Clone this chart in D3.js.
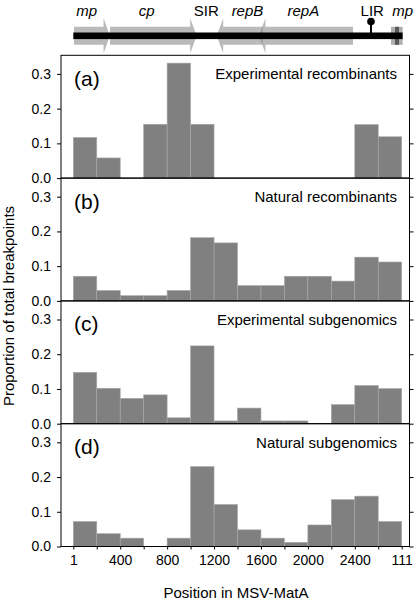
<!DOCTYPE html>
<html><head><meta charset="utf-8">
<script src="https://cdn.jsdelivr.net/npm/d3@7"></script>
<style>
body{margin:0;background:#fff}
svg{display:block;font-family:"Liberation Sans",Arial,sans-serif}
</style>
</head><body>
<svg id="chart" width="416" height="601"></svg>
<script>
// ---- data ----
const binStarts = [0,200,400,600,800,1000,1200,1400,1600,1800,2000,2200,2400,2600];
const binWidth = 200;
const xTickValues = [0,400,800,1200,1600,2000,2400,2800];
const xTickLabels = ["1","400","800","1200","1600","2000","2400","111"];
const yTicks = [0,0.1,0.2,0.3];
const panelLetters = ["(a)","(b)","(c)","(d)"];
const panelTitles = ["Experimental recombinants","Natural recombinants","Experimental subgenomics","Natural subgenomics"];
const experimentalRecombinants = [0.117,0.058,0,0.155,0.331,0.155,0,0,0,0,0,0,0.154,0.119];
const naturalRecombinants = [0.071,0.030,0.015,0.015,0.030,0.182,0.167,0.044,0.044,0.071,0.071,0.057,0.126,0.112];
const experimentalSubgenomics = [0.148,0.102,0.073,0.083,0.017,0.224,0.008,0.045,0.008,0.008,0,0.055,0.110,0.101];
const naturalSubgenomics = [0.072,0.037,0.024,0,0.024,0.230,0.121,0.048,0.024,0.012,0.062,0.135,0.145,0.072];
const seriesList = [experimentalRecombinants,naturalRecombinants,experimentalSubgenomics,naturalSubgenomics];

// genome map (positions in genome coordinates)
const genes = [
  {name:"mp", start:6, end:313, dir:1},
  {name:"cp", start:313, end:1052, dir:1},
  {name:"repB", start:1223, end:1617, dir:-1},
  {name:"repA", start:1583, end:2385, dir:-1}
];
const geneLabels = [
  {text:"mp", pos:114, italic:true},
  {text:"cp", pos:626, italic:true},
  {text:"SIR", pos:1134, italic:false},
  {text:"repB", pos:1485, italic:true},
  {text:"repA", pos:1961, italic:true},
  {text:"LIR", pos:2549, italic:false},
  {text:"mp", pos:2808, italic:true}
];
const genomeSpan = [0, 2808];
const lirPos = 2538;
const mpTail = [2709, 2808];
const mpTailCore = [2743, 2777];

// ---- layout ----
const W = 416, H = 601;
const frameLeft = 61, frameRight = 409.5;
const panelTop0 = 55.3, panelH = 122.8;
const yMaxDomain = 0.3 * panelH / 104.2;

const svg = d3.select("#chart");
const x = d3.scaleLinear().domain([0, 2800]).range([73.3, 401.7]);

// ---- genome map ----
const map = svg.append("g");
const lineY = 35.8, bodyHalf = 9, headHalf = 17.5, headLen = 55;
function genePath(g){
  const y0 = lineY - bodyHalf, y1 = lineY + bodyHalf;
  const ht = lineY - headHalf, hb = lineY + headHalf;
  if (g.dir > 0){
    const hb0 = g.end - headLen;
    return [[x(g.start),y0],[x(hb0),y0],[x(hb0),ht],[x(g.end),lineY],[x(hb0),hb],[x(hb0),y1],[x(g.start),y1]];
  } else {
    const hb0 = g.start + headLen;
    return [[x(g.end),y0],[x(hb0),y0],[x(hb0),ht],[x(g.start),lineY],[x(hb0),hb],[x(hb0),y1],[x(g.end),y1]];
  }
}
map.selectAll("polygon.gene").data(genes).join("polygon")
  .attr("class","gene")
  .attr("points", d => genePath(d).map(p => p.join(",")).join(" "))
  .attr("fill","#8c8c8c").attr("fill-opacity",0.6);
map.append("rect")
  .attr("x", x(mpTail[0])).attr("width", x(mpTail[1]) - x(mpTail[0]))
  .attr("y", lineY - bodyHalf).attr("height", bodyHalf*2)
  .attr("fill","#b0b0b0");
map.append("rect")
  .attr("x", x(mpTailCore[0])).attr("width", x(mpTailCore[1]) - x(mpTailCore[0]))
  .attr("y", lineY - bodyHalf).attr("height", bodyHalf*2)
  .attr("fill","#5a5a5a");
map.append("rect")
  .attr("x", x(genomeSpan[0])).attr("width", x(genomeSpan[1]) - x(genomeSpan[0]))
  .attr("y", lineY - 3.3).attr("height", 6.6).attr("fill","#000");
map.append("line")
  .attr("x1", x(lirPos)).attr("x2", x(lirPos))
  .attr("y1", lineY).attr("y2", 22)
  .attr("stroke","#000").attr("stroke-width",2);
map.append("circle").attr("cx", x(lirPos)).attr("cy", 21.5).attr("r", 3.8).attr("fill","#000");
map.selectAll("text.gl").data(geneLabels).join("text")
  .attr("class","gl")
  .attr("x", d => x(d.pos)).attr("y", 16)
  .attr("text-anchor","middle")
  .attr("font-size", 15)
  .attr("font-style", d => d.italic ? "italic" : "normal")
  .text(d => d.text);

// ---- panels ----
seriesList.forEach((vals, i) => {
  const top = panelTop0 + i * panelH, bottom = top + panelH;
  const y = d3.scaleLinear().domain([0, yMaxDomain]).range([bottom, top]);
  const g = svg.append("g");
  const data = binStarts.map((s, k) => ({s, v: vals[k]})).filter(d => d.v > 0);
  g.selectAll("rect.bar").data(data).join("rect")
    .attr("class","bar")
    .attr("x", d => x(d.s)).attr("width", d => x(d.s + binWidth) - x(d.s))
    .attr("y", d => y(d.v)).attr("height", d => y(0) - y(d.v))
    .attr("fill","#808080").attr("stroke","#a8a8a8").attr("stroke-width",0.6);

  const left = g.append("g").attr("transform", `translate(${frameLeft},0)`)
    .call(d3.axisLeft(y).tickValues(yTicks).tickSize(4).tickPadding(6).tickFormat(d3.format(".1f")));
  left.select(".domain").remove();
  left.selectAll("text").attr("font-size", 14).attr("font-family", null).attr("fill","#000");
  left.selectAll("line").attr("stroke","#000");

  const right = g.append("g").attr("transform", `translate(${frameRight},0)`)
    .call(d3.axisRight(y).tickValues(yTicks).tickSize(4).tickFormat(""));
  right.select(".domain").remove();
  right.selectAll("line").attr("stroke","#000");

  g.append("rect")
    .attr("x", frameLeft).attr("y", top)
    .attr("width", frameRight - frameLeft).attr("height", panelH)
    .attr("fill","none").attr("stroke","#000").attr("stroke-width",1);

  g.append("text").attr("x", 74).attr("y", top + 30.5)
    .attr("font-size", 21).text(panelLetters[i]);
  g.append("text").attr("x", 397).attr("y", top + 24)
    .attr("text-anchor","end").attr("font-size", 15).text(panelTitles[i]);

  if (i === seriesList.length - 1){
    const bx = g.append("g").attr("transform", `translate(0,${bottom})`)
      .call(d3.axisBottom(x).tickValues(binStarts.concat([2800])).tickSize(3).tickPadding(6)
        .tickFormat(d => { const k = xTickValues.indexOf(d); return k >= 0 ? xTickLabels[k] : ""; }));
    bx.select(".domain").remove();
    bx.selectAll("text").attr("font-size", 14).attr("font-family", null).attr("fill","#000");
    bx.selectAll("line").attr("stroke","#000");
  }
});

// axis titles
svg.append("text")
  .attr("transform", `translate(13.5,306) rotate(-90)`)
  .attr("text-anchor","middle").attr("font-size", 15)
  .text("Proportion of total breakpoints");
svg.append("text")
  .attr("x", 236).attr("y", 597.5)
  .attr("text-anchor","middle").attr("font-size", 15)
  .text("Position in MSV-MatA");
</script>
</body></html>
